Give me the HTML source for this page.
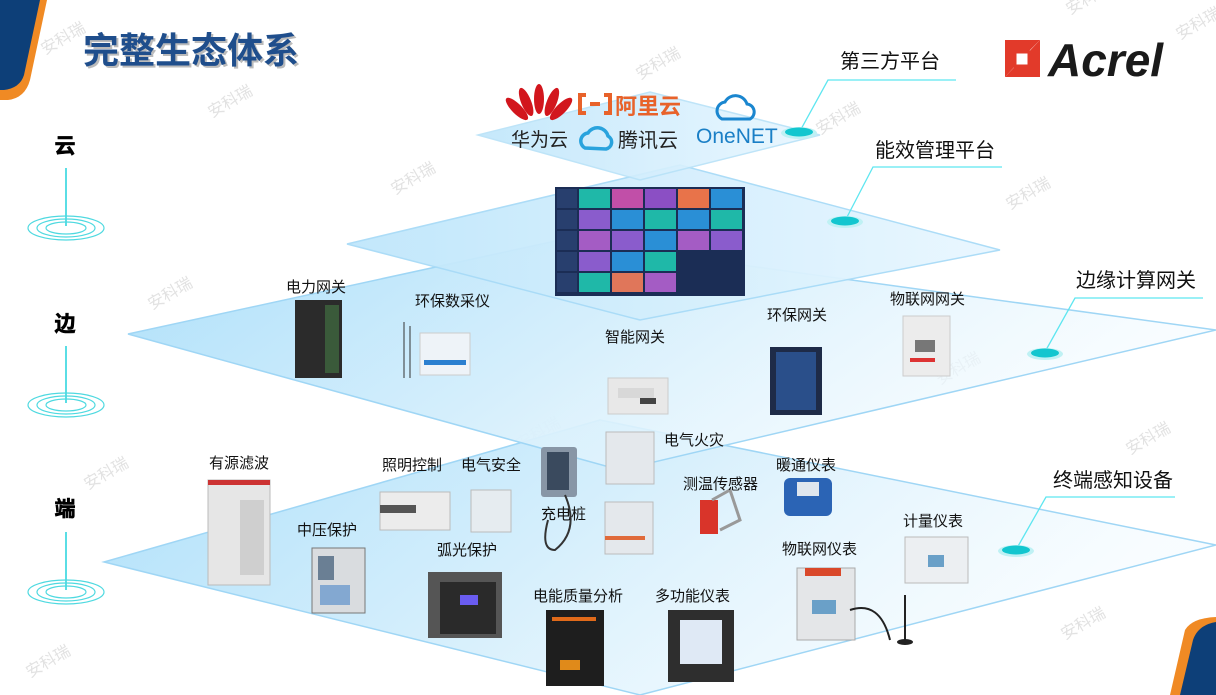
<!DOCTYPE html>
<html><head><meta charset="utf-8"><style>
html,body{margin:0;padding:0;background:#fff;}
svg{display:block;font-family:"Liberation Sans","Noto Sans CJK SC",sans-serif;}
</style></head><body>
<svg width="1216" height="695" viewBox="0 0 1216 695" xmlns="http://www.w3.org/2000/svg">
<defs>
<linearGradient id="pg" x1="0" y1="0" x2="1" y2="0.3">
<stop offset="0" stop-color="#aee0fa"/><stop offset="0.5" stop-color="#d6effc"/><stop offset="1" stop-color="#f4fbff" stop-opacity="0.6"/>
</linearGradient>
<linearGradient id="pg2" x1="0" y1="0" x2="1" y2="0">
<stop offset="0" stop-color="#bfe6fb"/><stop offset="1" stop-color="#e9f7ff"/>
</linearGradient>
</defs>

<path d="M0 0 H47 L30 80 Q25 98 8 100 H0 Z" fill="#f08a24"/>
<path d="M0 0 H40 L24 75 Q20 88 4 90 H0 Z" fill="#0d3f78"/>
<path d="M1170 695 L1185 630 Q1192 618 1216 617 V695 Z" fill="#f08a24"/>
<path d="M1180 695 L1193 640 Q1198 625 1216 622 V695 Z" fill="#0d3f78"/>

<g fill="#e2e2e2" font-size="16">
<text transform="translate(45,55) rotate(-30)">安科瑞</text>
<text transform="translate(212,118) rotate(-30)">安科瑞</text>
<text transform="translate(640,80) rotate(-30)">安科瑞</text>
<text transform="translate(820,135) rotate(-30)">安科瑞</text>
<text transform="translate(1070,15) rotate(-30)">安科瑞</text>
<text transform="translate(395,195) rotate(-30)">安科瑞</text>
<text transform="translate(1010,210) rotate(-30)">安科瑞</text>
<text transform="translate(152,310) rotate(-30)">安科瑞</text>
<text transform="translate(88,490) rotate(-30)">安科瑞</text>
<text transform="translate(30,678) rotate(-30)">安科瑞</text>
<text transform="translate(1130,455) rotate(-30)">安科瑞</text>
<text transform="translate(1065,640) rotate(-30)">安科瑞</text>
<text transform="translate(940,385) rotate(-30)">安科瑞</text>
<text transform="translate(520,450) rotate(-30)">安科瑞</text>
<text transform="translate(1180,40) rotate(-30)">安科瑞</text>
</g>

<polygon points="104,562 600,420 1216,545 640,695" fill="url(#pg)" stroke="#9fd6f5" stroke-width="1.5"/>
<polygon points="128,334 560,240 1216,330 620,470" fill="url(#pg)" stroke="#9fd6f5" stroke-width="1.5"/>
<polygon points="347,244 680,165 1000,250 640,320" fill="url(#pg2)" stroke="#a8dbf7" stroke-width="1.5" opacity="0.95"/>
<polygon points="478,135 650,92 820,135 640,180" fill="url(#pg2)" stroke="#b8e2f8" stroke-width="1.5" opacity="0.9"/>

<text x="83" y="63" font-size="36" font-weight="bold" fill="#bbb" transform="translate(2,2)">完整生态体系</text>
<text x="83" y="63" font-size="36" font-weight="bold" fill="#1f4e8c">完整生态体系</text>

<path d="M1005 40 H1040 L1028 52 H1017 V64 L1005 77 Z" fill="#e23a2a"/>
<path d="M1040 40 V77 H1005 Z" fill="#e23a2a"/>
<rect x="1015" y="52" width="14" height="14" fill="#fff" stroke="#e23a2a" stroke-width="3"/>
<text x="1048" y="76" font-size="46" font-weight="bold" font-style="italic" fill="#1a1a1a">Acrel</text>

<g font-size="21" font-weight="bold" fill="#000" text-anchor="middle" stroke="#000" stroke-width="0.6">
<text x="65" y="153">云</text><text x="65" y="331">边</text><text x="65" y="516">端</text>
</g>
<g stroke="#22d3dc" stroke-width="1.5">
<line x1="66" y1="168" x2="66" y2="226"/><line x1="66" y1="346" x2="66" y2="403"/><line x1="66" y1="532" x2="66" y2="590"/>
</g>
<g fill="none" stroke="#4fd9e0" stroke-width="1.2">
<ellipse cx="66" cy="228" rx="38" ry="12"/><ellipse cx="66" cy="228" rx="29" ry="9"/><ellipse cx="66" cy="228" rx="20" ry="6"/>
<ellipse cx="66" cy="405" rx="38" ry="12"/><ellipse cx="66" cy="405" rx="29" ry="9"/><ellipse cx="66" cy="405" rx="20" ry="6"/>
<ellipse cx="66" cy="592" rx="38" ry="12"/><ellipse cx="66" cy="592" rx="29" ry="9"/><ellipse cx="66" cy="592" rx="20" ry="6"/>
</g>

<g font-size="20" fill="#111">
<text x="840" y="68">第三方平台</text>
<text x="875" y="157">能效管理平台</text>
<text x="1076" y="287">边缘计算网关</text>
<text x="1053" y="487">终端感知设备</text>
</g>
<g stroke="#5ee6f0" stroke-width="1.3" fill="none">
<polyline points="956,80 828,80 800,131"/>
<polyline points="1002,167 873,167 846,219"/>
<polyline points="1203,298 1075,298 1046,350"/>
<polyline points="1175,497 1046,497 1017,548"/>
</g>
<g>
<ellipse cx="799" cy="133" rx="18" ry="6" fill="#bff1f4"/><ellipse cx="799" cy="132" rx="14" ry="4.5" fill="#13c6cf"/>
<ellipse cx="845" cy="222" rx="18" ry="6" fill="#bff1f4"/><ellipse cx="845" cy="221" rx="14" ry="4.5" fill="#13c6cf"/>
<ellipse cx="1045" cy="354" rx="18" ry="6" fill="#bff1f4"/><ellipse cx="1045" cy="353" rx="14" ry="4.5" fill="#13c6cf"/>
<ellipse cx="1016" cy="551" rx="18" ry="6" fill="#bff1f4"/><ellipse cx="1016" cy="550" rx="14" ry="4.5" fill="#13c6cf"/>
</g>

<g fill="#d2161d">
<ellipse cx="524" cy="106" rx="5" ry="15" transform="rotate(-45 524 116)"/>
<ellipse cx="531" cy="101" rx="5" ry="15" transform="rotate(-22 531 114)"/>
<ellipse cx="539" cy="99" rx="5" ry="15"/>
<ellipse cx="547" cy="101" rx="5" ry="15" transform="rotate(22 547 114)"/>
<ellipse cx="554" cy="106" rx="5" ry="15" transform="rotate(45 554 116)"/>
</g>
<text x="511" y="146" font-size="19" fill="#222">华为云</text>
<path d="M586 95 H580 V113 H586 M604 95 H610 V113 H604 M590 104 H600" fill="none" stroke="#e8622a" stroke-width="4"/>
<text x="615" y="114" font-size="22" font-weight="bold" fill="#e8622a">阿里云</text>
<path d="M585 148 A8 8 0 0 1 588 133 A11 11 0 0 1 608 136 A7 7 0 0 1 606 149 Z" fill="none" stroke="#29a3dd" stroke-width="3.5"/>
<text x="618" y="147" font-size="20" fill="#222">腾讯云</text>
<path d="M722 119 A9 9 0 0 1 725 102 A12 12 0 0 1 747 104 A8 8 0 0 1 750 119 Z" fill="none" stroke="#1a86cf" stroke-width="3"/>
<text x="696" y="143" font-size="21" fill="#1a7fc6">OneNET</text>

<rect x="555" y="187" width="190" height="109" fill="#1b2d55"/>
<g>
<rect x="557" y="189" width="20" height="19" fill="#283f6e"/><rect x="557" y="210" width="20" height="19" fill="#283f6e"/><rect x="557" y="231" width="20" height="19" fill="#283f6e"/><rect x="557" y="252" width="20" height="19" fill="#283f6e"/><rect x="557" y="273" width="20" height="19" fill="#283f6e"/>
<rect x="579" y="189" width="31" height="19" fill="#1fb8a8"/><rect x="612" y="189" width="31" height="19" fill="#c14fa8"/><rect x="645" y="189" width="31" height="19" fill="#8b4fc4"/><rect x="678" y="189" width="31" height="19" fill="#e8734a"/><rect x="711" y="189" width="31" height="19" fill="#2a8fd6"/>
<rect x="579" y="210" width="31" height="19" fill="#8a5ccc"/><rect x="612" y="210" width="31" height="19" fill="#2a8fd6"/><rect x="645" y="210" width="31" height="19" fill="#1fb8a8"/><rect x="678" y="210" width="31" height="19" fill="#2a8fd6"/><rect x="711" y="210" width="31" height="19" fill="#1fb8a8"/>
<rect x="579" y="231" width="31" height="19" fill="#a45cc4"/><rect x="612" y="231" width="31" height="19" fill="#8a5ccc"/><rect x="645" y="231" width="31" height="19" fill="#2a8fd6"/><rect x="678" y="231" width="31" height="19" fill="#a45cc4"/><rect x="711" y="231" width="31" height="19" fill="#8a5ccc"/>
<rect x="579" y="252" width="31" height="19" fill="#8a5ccc"/><rect x="612" y="252" width="31" height="19" fill="#2a8fd6"/><rect x="645" y="252" width="31" height="19" fill="#1fb8a8"/>
<rect x="579" y="273" width="31" height="19" fill="#1fb8a8"/><rect x="612" y="273" width="31" height="19" fill="#e0765a"/><rect x="645" y="273" width="31" height="19" fill="#a45cc4"/>
</g>

<rect x="295" y="300" width="47" height="78" fill="#2b2b2b"/><rect x="325" y="305" width="14" height="68" fill="#3a5a3a"/>
<line x1="404" y1="322" x2="404" y2="378" stroke="#333"/><line x1="410" y1="326" x2="410" y2="378" stroke="#333"/>
<rect x="420" y="333" width="50" height="42" fill="#eef3f8" stroke="#ccc"/><rect x="424" y="360" width="42" height="5" fill="#2a7fd0"/>
<rect x="608" y="378" width="60" height="36" fill="#e8e8e8" stroke="#ccc"/><rect x="618" y="388" width="36" height="10" fill="#d8d8d8"/><rect x="640" y="398" width="16" height="6" fill="#444"/>
<rect x="770" y="347" width="52" height="68" fill="#1e2b48"/><rect x="776" y="352" width="40" height="58" fill="#2a4f8a"/>
<rect x="903" y="316" width="47" height="60" fill="#ececec" stroke="#ccc"/><rect x="915" y="340" width="20" height="12" fill="#777"/><rect x="910" y="358" width="25" height="4" fill="#d33"/>

<rect x="208" y="480" width="62" height="105" fill="#e6e6e6" stroke="#bbb"/><rect x="208" y="480" width="62" height="5" fill="#c33"/><rect x="240" y="500" width="24" height="75" fill="#cfcfcf"/>
<rect x="312" y="548" width="53" height="65" fill="#d9dcdf" stroke="#777"/><rect x="318" y="556" width="16" height="24" fill="#6a7f94"/><rect x="320" y="585" width="30" height="20" fill="#4a86c8" opacity="0.6"/>
<rect x="380" y="492" width="70" height="38" fill="#ececec" stroke="#bbb"/><rect x="380" y="505" width="36" height="8" fill="#555"/>
<rect x="471" y="490" width="40" height="42" fill="#e6ecf0" stroke="#bbb"/>
<rect x="541" y="447" width="36" height="50" rx="3" fill="#8896a6"/><rect x="547" y="452" width="22" height="38" fill="#3a4a5e"/>
<path d="M565 495 Q580 530 555 550 Q540 550 548 520" fill="none" stroke="#333" stroke-width="2"/>
<rect x="428" y="572" width="74" height="66" fill="#555"/><rect x="440" y="582" width="56" height="52" fill="#2a2a2a"/><rect x="460" y="595" width="18" height="10" fill="#6a5cf0"/>
<rect x="606" y="432" width="48" height="52" fill="#e4e8ec" stroke="#bbb"/>
<rect x="605" y="502" width="48" height="52" fill="#e4e8ec" stroke="#bbb"/><rect x="605" y="536" width="40" height="4" fill="#e06a3a"/>
<rect x="700" y="500" width="18" height="34" fill="#d9342a"/><path d="M712 500 L730 490 L740 520 L720 530" fill="none" stroke="#999" stroke-width="3"/>
<rect x="784" y="478" width="48" height="38" rx="6" fill="#2b64b5"/><rect x="797" y="482" width="22" height="14" fill="#dfe6ee"/>
<rect x="905" y="537" width="63" height="46" fill="#eceff2" stroke="#bbb"/><rect x="928" y="555" width="16" height="12" fill="#6aa0c8"/>
<rect x="797" y="568" width="58" height="72" fill="#e4e6e8" stroke="#aaa"/><rect x="805" y="568" width="36" height="8" fill="#d9482a"/><rect x="812" y="600" width="24" height="14" fill="#6aa0c8"/>
<path d="M850 610 Q880 600 890 640" fill="none" stroke="#222" stroke-width="2"/><line x1="905" y1="595" x2="905" y2="640" stroke="#222" stroke-width="2"/><ellipse cx="905" cy="642" rx="8" ry="3" fill="#222"/>
<rect x="546" y="610" width="58" height="76" fill="#1e1e1e"/><rect x="552" y="617" width="44" height="4" fill="#e06a1a"/><rect x="560" y="660" width="20" height="10" fill="#e08a1a"/>
<rect x="668" y="610" width="66" height="72" fill="#2e2e2e"/><rect x="680" y="620" width="42" height="44" fill="#dfe9f5"/>

<g font-size="15" fill="#111">
<text x="286" y="292">电力网关</text>
<text x="415" y="306">环保数采仪</text>
<text x="605" y="342">智能网关</text>
<text x="767" y="320">环保网关</text>
<text x="890" y="304">物联网网关</text>
<text x="209" y="468">有源滤波</text>
<text x="382" y="470">照明控制</text>
<text x="461" y="470">电气安全</text>
<text x="541" y="519">充电桩</text>
<text x="664" y="445">电气火灾</text>
<text x="776" y="470">暖通仪表</text>
<text x="683" y="489">测温传感器</text>
<text x="297" y="535">中压保护</text>
<text x="437" y="555">弧光保护</text>
<text x="903" y="526">计量仪表</text>
<text x="782" y="554">物联网仪表</text>
<text x="533" y="601">电能质量分析</text>
<text x="655" y="601">多功能仪表</text>
</g>
</svg>
</body></html>
